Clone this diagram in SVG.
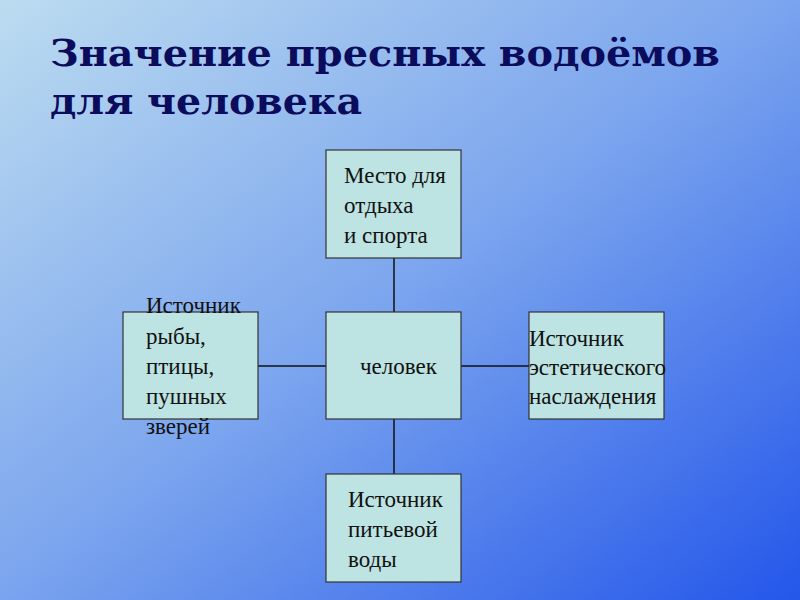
<svg xmlns="http://www.w3.org/2000/svg" width="800" height="600" viewBox="0 0 800 600">
<defs>
<linearGradient id="bg" x1="0" y1="0" x2="1" y2="1">
<stop offset="0" stop-color="#bcdcf0"/>
<stop offset="0.5" stop-color="#7aa4ee"/>
<stop offset="1" stop-color="#2456ea"/>
</linearGradient>
<style>
.box{fill:#bde3e3;stroke:#333;stroke-width:1.2}
.t{font-family:"Liberation Serif","Times New Roman",serif;font-size:23px;fill:#111}
.title{font-family:"DejaVu Serif",serif;font-size:37px;font-weight:bold;fill:#0c0c5c}
.c{stroke:#111;stroke-width:1.5}
</style>
</defs>
<rect width="800" height="600" fill="url(#bg)"/>
<text class="title" x="50" y="66" textLength="670" lengthAdjust="spacingAndGlyphs">Значение пресных водоёмов</text>
<text class="title" x="50" y="114" textLength="312" lengthAdjust="spacingAndGlyphs">для человека</text>
<g id="connectors">
<line class="c" x1="394" y1="258" x2="394" y2="312"/>
<line class="c" x1="394" y1="419" x2="394" y2="474"/>
<line class="c" x1="258" y1="366" x2="326" y2="366"/>
<line class="c" x1="461" y1="366" x2="529" y2="366"/>
</g>
<g id="top"><rect class="box" x="326" y="150" width="135" height="108"/>
<text class="t" x="344" y="183">Место для</text><text class="t" x="344" y="213">отдыха</text><text class="t" x="344" y="243">и спорта</text></g>
<g id="center"><rect class="box" x="326" y="312" width="135" height="107"/>
<text class="t" x="360" y="374">человек</text></g>
<g id="left"><rect class="box" x="123" y="312" width="135" height="107"/>
<text class="t" x="146" y="313">Источник</text><text class="t" x="146" y="344">рыбы,</text><text class="t" x="146" y="374">птицы,</text><text class="t" x="146" y="404">пушных</text><text class="t" x="146" y="434">зверей</text></g>
<g id="right"><rect class="box" x="529" y="312" width="135" height="107"/>
<text class="t" x="529" y="346">Источник</text><text class="t" x="529" y="375">эстетического</text><text class="t" x="529" y="404">наслаждения</text></g>
<g id="bottom"><rect class="box" x="326" y="474" width="135" height="108"/>
<text class="t" x="348" y="507">Источник</text><text class="t" x="348" y="537">питьевой</text><text class="t" x="348" y="567">воды</text></g>
</svg>
